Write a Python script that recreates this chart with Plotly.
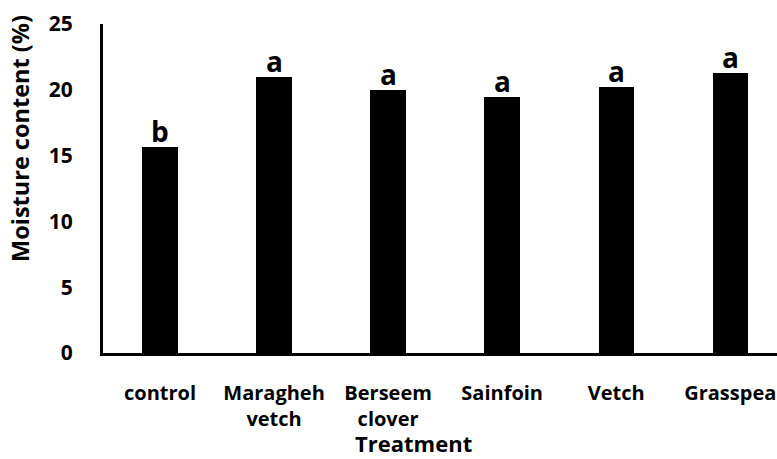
import plotly.graph_objects as go

categories = ["control", "Maragheh<br>vetch", "Berseem<br>clover", "Sainfoin", "Vetch", "Grasspea"]
moisture = [15.65, 21.0, 19.95, 19.45, 20.25, 21.3]
letters = ["b", "a", "a", "a", "a", "a"]
y_ticks = [0, 5, 10, 15, 20, 25]

FONT = "Open Sans"

fig = go.Figure()
fig.add_trace(go.Bar(
    x=list(range(len(categories))), y=moisture,
    marker=dict(color="black", line=dict(width=0)),
    width=0.31,
))

for i, (v, l) in enumerate(zip(moisture, letters)):
    fig.add_annotation(x=i, y=v, text=l, showarrow=False, yanchor="bottom",
                       yshift=-5, font=dict(family=FONT, size=28, color="black", weight="bold"))

fig.add_annotation(xref="paper", yref="paper", x=(413 - 103) / 674, y=(353 - 443) / 329,
                   text="<b>Treatment</b>", showarrow=False, xanchor="center", yanchor="middle",
                   font=dict(family=FONT, size=22, color="black"))
fig.add_annotation(xref="paper", yref="paper", x=(20 - 103) / 674, y=(353 - 139) / 329,
                   text="<b>Moisture content (%)</b>", showarrow=False, textangle=-90,
                   xanchor="center", yanchor="middle",
                   font=dict(family=FONT, size=23.5, color="black"))

fig.update_layout(
    template="none",
    width=777, height=459,
    margin=dict(l=103, r=0, t=24, b=106),
    plot_bgcolor="white", paper_bgcolor="white",
    showlegend=False,
    font=dict(family=FONT, color="black"),
    bargap=0,
)
fig.update_xaxes(
    range=[-0.5, 5.41], tickmode="array", tickvals=list(range(len(categories))),
    ticktext=[f"<b>{c}</b>" for c in categories],
    showline=True, linecolor="black", linewidth=3, ticks="", showgrid=False,
    zeroline=False, tickfont=dict(family=FONT, size=20, color="black"),
    ticklabelstandoff=20, automargin=False, ticklabeloverflow="allow",
)
fig.update_yaxes(
    range=[0, 25], tickmode="array", tickvals=y_ticks,
    ticktext=[f"<b>{t}</b>" for t in y_ticks],
    showline=True, linecolor="black", linewidth=3, ticks="", showgrid=False,
    zeroline=False, tickfont=dict(family=FONT, size=21, color="black"),
    ticklabelstandoff=23, automargin=False,
)

fig.write_html("out.html", config={"displayModeBar": False},
               post_script="document.body.style.margin='0';document.body.style.overflow='hidden';")
